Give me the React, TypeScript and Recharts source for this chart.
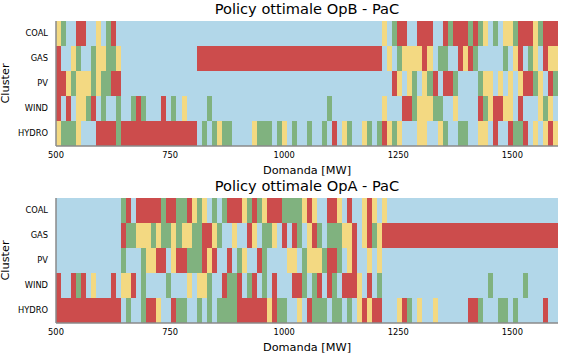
import React from 'react'
import { BarChart, Bar, Cell, XAxis, YAxis } from 'recharts'

// cluster rows, top to bottom
const clusters = ['COAL', 'GAS', 'PV', 'WIND', 'HYDRO']

// demand axis: 100 columns of 11 MW from 500 to 1600
const demandStart = 500
const demandEnd = 1600
const demandStep = 11
const xTicks = [500, 750, 1000, 1250, 1500]

// policy per column, B = blue, R = red, Y = yellow, G = green (groups of 10 columns)
const policyOpB = [
  'YGBBRRBBYB GRBBBBBBBB BBBBBBBBBB BBBBBBBBBB BBBBBBBBBB BBBBBBBBBB BBBBBYBGRR BBRRRBBRGR RRGRGYBGBY YGRRRYGRRR',
  'RBBYGBBGYY GGYBBBBBBB BBBBBBBBRR RRRRRRRRRR RRRRRRRRRR RRRRRRRRRR RRRRRBYBGY YYYRYBGGBB RYRGBBBBBG BYRBGYBRYY',
  'RRYGYYYGYG GRRBBBBBBB BBBBBBBBBB BBBBBBBBBB BBBBBBBBBB BBBBBBBBBB BBBBBBBRYB YGBYGRBRRG BBBBGYYBYB YBYRRGYBRG',
  'RBRBYYGRBG BBGBBGRGBB BRBGBYBBBB GBBBBBBBBB BBBBBBBBBB BBBBGBBBBB BBBBBYBBBR RGYYYGGBBY BBBBRGYRRY YBRBBBYGYB',
  'YGGGYBBBRR RRGRRRRRRR RRRRRRRRBG BGYGGBBBBY GGGBGYBGBB GBBGBRBYGB BYGBGRYGYB BBYYBBYGBB GGBBYYBRBB RGGRBYBYRY',
]

const policyOpA = [
  'BBBBBBBBBB BBBGRBRRRR RGRRGGRYGY BGBGRRRYGR GYRRRGGGGY RYBBRRYBRB BYRYBYBBBB BBBBBBBBBB BBBBBBBBBB BBBBBBBBBB',
  'BBBBBBBBBB BBBRGGYYYG YGGYGYYGGR RYGBBYBBRY BGGYBRBRGB YRGBGGGYYR BYRGYRRRRR RRRRRRRRRR RRRRRRRRRR RRRRRRRRRR',
  'BBBBBBBBBB BBBGBBBGYY RRBYRRGGGR YRBBRBGYBB RGBBBBYYBG YYYGRRGBYR BBYBYBBBBB BBBBBBBBBB BBBBBBBBBB BBBBBBBBBB',
  'RBBRGRBYBB BRBYYRBGBB BBGBBBYBYY GBBRGGRBGR BGBRBBBRRG BGRBRGBRRR YBRBGBBBBB BBBBBBBBBB BBBBBBGBBB BBBGBBBBBB',
  'RRRRRRRRRR RRRBGBBGRR YBBRGGBBGB GBGGGGRRRR RRYRGGBBYB RGGGBGGBGB YRYRRBBBYR GBYBBYBBBB BBRRGBBBGG BGBBBBBRBB',
]

const titles = ['Policy ottimale OpB - PaC', 'Policy ottimale OpA - PaC']

const palette: Record<string, string> = {
  B: '#b2d7e9',
  R: '#cc4c4c',
  Y: '#f3d982',
  G: '#80b27f',
}

const font = 'DejaVu Sans, sans-serif'
const axisColor = '#8a8a8a'
const chartH = 177

function PolicyChart({ policy }: { policy: string[] }) {
  const grid = policy.map((row) => row.replace(/ /g, ''))
  const colKeys = grid[0].split('').map((_, i) => `c${i}`)

  const data = clusters.map((name) => {
    const row: Record<string, string | number> = { name, base: demandStart }
    colKeys.forEach((k) => (row[k] = demandStep))
    return row
  })

  return (
    <BarChart
      width={566}
      height={chartH}
      data={data}
      layout="vertical"
      margin={{ top: 21, right: 8, bottom: 0, left: 0 }}
      barCategoryGap={0}
    >
      <Bar dataKey="base" stackId="s" fill="none" isAnimationActive={false} />
      {colKeys.map((k, i) => (
        <Bar key={k} dataKey={k} stackId="s" isAnimationActive={false}>
          {grid.map((row, r) => (
            <Cell key={r} fill={palette[row[i]]} shapeRendering="crispEdges" />
          ))}
        </Bar>
      ))}
      <XAxis
        type="number"
        domain={[demandStart, demandEnd]}
        ticks={xTicks}
        allowDataOverflow
        height={31}
        tickLine={false}
        tickSize={4}
        tickMargin={2}
        axisLine={{ stroke: axisColor, strokeWidth: 1.5 }}
        tick={{ fontSize: 8.3, fill: '#000', fontFamily: font }}
      />
      <YAxis
        type="category"
        dataKey="name"
        width={56}
        tickLine={false}
        tickSize={6}
        tickMargin={2}
        axisLine={{ stroke: axisColor, strokeWidth: 1.5 }}
        tick={{ fontSize: 8.3, fill: '#000', fontFamily: font }}
      />
    </BarChart>
  )
}

export default function App() {
  return (
    <div style={{ position: 'relative', width: 566, height: 354, background: '#fff' }}>
      <style>{'body { margin: 0; }'}</style>
      <PolicyChart policy={policyOpB} />
      <PolicyChart policy={policyOpA} />
      {/* titles and axis labels */}
      <svg
        width={566}
        height={354}
        style={{ position: 'absolute', left: 0, top: 0, pointerEvents: 'none' }}
        fontFamily={font}
      >
        {titles.map((t, i) => {
          const y0 = i * chartH
          return (
            <g key={t}>
              <text x={307} y={y0 + 13.5} textAnchor="middle" fontSize={14.6}>
                {t}
              </text>
              <text x={307} y={y0 + 173.5} textAnchor="middle" fontSize={11.3}>
                Domanda [MW]
              </text>
              <text
                x={8.5}
                y={y0 + 83.5}
                textAnchor="middle"
                fontSize={11.3}
                transform={`rotate(-90, 8.5, ${y0 + 83.5})`}
              >
                Cluster
              </text>
            </g>
          )
        })}
      </svg>
    </div>
  )
}
